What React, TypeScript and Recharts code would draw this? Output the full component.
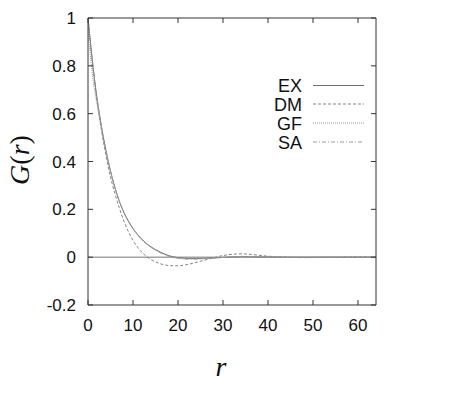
import React from 'react';
import { LineChart, Line, XAxis, YAxis, ReferenceLine } from 'recharts';

// r grid and G(r) values
const rValues = [0, 1, 2, 3, 4, 5, 6, 7, 8, 9, 10, 11, 12, 13, 14, 16, 18, 20, 22, 24, 26, 28, 30, 32, 34, 36, 38, 40, 44, 48, 52, 56, 60, 64];
const exValues = [1, 0.815, 0.665, 0.545, 0.445, 0.36, 0.29, 0.232, 0.186, 0.15, 0.12, 0.095, 0.075, 0.057, 0.043, 0.022, 0.006, -0.002, -0.005, -0.006, -0.005, -0.003, -0.001, 0.001, 0.002, 0.002, 0.001, 0.001, 0, 0, 0, 0, 0, 0];
const dmValues = [1, 0.81, 0.655, 0.53, 0.425, 0.335, 0.265, 0.203, 0.15, 0.106, 0.07, 0.042, 0.02, 0.003, -0.01, -0.027, -0.035, -0.036, -0.031, -0.022, -0.012, -0.002, 0.007, 0.012, 0.014, 0.012, 0.008, 0.004, 0, -0.002, -0.001, 0, 0.001, 0];
const gfValues = [0.95, 0.76, 0.64, 0.535, 0.44, 0.358, 0.288, 0.23, 0.184, 0.148, 0.118, 0.093, 0.072, 0.055, 0.041, 0.019, 0.004, -0.004, -0.007, -0.007, -0.005, -0.003, -0.001, 0.001, 0.002, 0.002, 0.001, 0.001, 0, 0, 0, 0, 0, 0];
const saValues = [1, 0.815, 0.665, 0.545, 0.445, 0.36, 0.29, 0.232, 0.186, 0.149, 0.119, 0.094, 0.073, 0.056, 0.042, 0.02, 0.004, -0.004, -0.008, -0.008, -0.006, -0.004, -0.001, 0.001, 0.003, 0.003, 0.002, 0.001, 0, 0, 0, 0, 0, 0];

const xTicks = [0, 10, 20, 30, 40, 50, 60];
const yTicks = [-0.2, 0, 0.2, 0.4, 0.6, 0.8, 1];

const seriesNames = ['EX', 'DM', 'GF', 'SA'];
const seriesKeys = ['ex', 'dm', 'gf', 'sa'];
const seriesColors = ['#6e6e6e', '#858585', '#999999', '#999999'];
const seriesDash = ['', '3 2', '1 1', '4 2 1 2'];

const data = rValues.map((r, i) => ({
  r,
  ex: exValues[i],
  dm: dmValues[i],
  gf: gfValues[i],
  sa: saValues[i],
}));

const W = 467;
const H = 393;
const TICK = 5;
const frame = '#333';
const ink = '#111';
const labelFont = '"Liberation Sans", Arial, sans-serif';

const BottomTick = (props: any) => {
  const { x, y, payload } = props;
  return (
    <g>
      <line x1={x} y1={y} x2={x} y2={y - TICK} stroke={frame} />
      <text x={x} y={y + 26} textAnchor="middle" fontSize={17} fontFamily={labelFont} fill={ink}>
        {String(payload.value)}
      </text>
    </g>
  );
};

const TopTick = (props: any) => {
  const { x, y } = props;
  return <line x1={x} y1={y} x2={x} y2={y + TICK} stroke={frame} />;
};

const LeftTick = (props: any) => {
  const { x, y, payload } = props;
  return (
    <g>
      <line x1={x} y1={y} x2={x + TICK} y2={y} stroke={frame} />
      <text x={x - 12} y={y + 6} textAnchor="end" fontSize={17} fontFamily={labelFont} fill={ink}>
        {String(payload.value)}
      </text>
    </g>
  );
};

const RightTick = (props: any) => {
  const { x, y } = props;
  return <line x1={x} y1={y} x2={x - TICK} y2={y} stroke={frame} />;
};

const Overlay = () => {
  const rows = [85.5, 104, 123, 142];
  return (
    <svg width={W} height={H} style={{ position: 'absolute', left: 0, top: 0, pointerEvents: 'none' }}>
      {seriesNames.map((name, i) => (
        <g key={name}>
          <text x={302} y={rows[i] + 6.5} textAnchor="end" fontSize={18} fontFamily={labelFont} fill={ink}>
            {name}
          </text>
          <line
            x1={313}
            x2={364}
            y1={rows[i]}
            y2={rows[i]}
            stroke={seriesColors[i]}
            strokeDasharray={seriesDash[i] || undefined}
          />
        </g>
      ))}
      <text
        x={0}
        y={0}
        transform="translate(29,160) rotate(-90)"
        textAnchor="middle"
        fontSize={28}
        fontFamily='"Liberation Serif", "Times New Roman", serif'
        fill={ink}
      >
        <tspan fontStyle="italic">G</tspan>
        <tspan>(</tspan>
        <tspan fontStyle="italic">r</tspan>
        <tspan>)</tspan>
      </text>
      <text
        x={221}
        y={376}
        textAnchor="middle"
        fontSize={28}
        fontStyle="italic"
        fontFamily='"Liberation Serif", "Times New Roman", serif'
        fill={ink}
      >
        r
      </text>
    </svg>
  );
};

export default function App() {
  return (
    <div style={{ position: 'absolute', left: 0, top: 0, width: W, height: H, background: '#fff' }}>
      <LineChart width={W} height={H} data={data} margin={{ top: 17, right: 90, bottom: 87, left: 87 }}>
        <XAxis
          xAxisId="bottom"
          dataKey="r"
          type="number"
          domain={[0, 64]}
          ticks={xTicks}
          height={1}
          tickSize={0}
          tickMargin={0}
          tickLine={false}
          axisLine={{ stroke: frame }}
          tick={<BottomTick />}
          allowDataOverflow
        />
        <XAxis
          xAxisId="top"
          orientation="top"
          dataKey="r"
          type="number"
          domain={[0, 64]}
          ticks={xTicks}
          height={1}
          tickSize={0}
          tickMargin={0}
          tickLine={false}
          axisLine={{ stroke: frame }}
          tick={<TopTick />}
          allowDataOverflow
        />
        <YAxis
          yAxisId="left"
          type="number"
          domain={[-0.2, 1]}
          ticks={yTicks}
          width={1}
          tickSize={0}
          tickMargin={0}
          tickLine={false}
          axisLine={{ stroke: frame }}
          tick={<LeftTick />}
          allowDataOverflow
        />
        <YAxis
          yAxisId="right"
          orientation="right"
          type="number"
          domain={[-0.2, 1]}
          ticks={yTicks}
          width={1}
          tickSize={0}
          tickMargin={0}
          tickLine={false}
          axisLine={{ stroke: frame }}
          tick={<RightTick />}
          allowDataOverflow
        />
        <ReferenceLine xAxisId="bottom" yAxisId="left" y={0} stroke="#777" />
        {seriesKeys.map((key, i) => (
          <Line
            key={key}
            xAxisId="bottom"
            yAxisId="left"
            type="monotone"
            dataKey={key}
            stroke={seriesColors[i]}
            strokeWidth={1}
            strokeDasharray={seriesDash[i] || undefined}
            dot={false}
            isAnimationActive={false}
          />
        ))}
      </LineChart>
      <Overlay />
    </div>
  );
}
